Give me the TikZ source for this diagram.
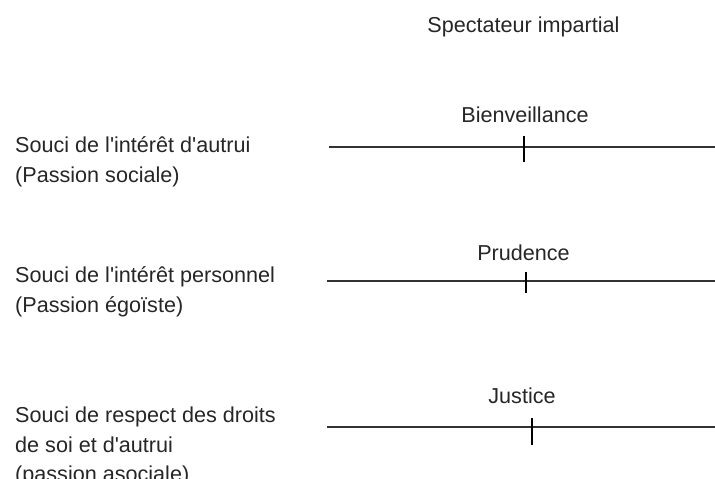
\documentclass[tikz,border=0pt]{standalone}
\usepackage{fontspec}
\setmainfont{Liberation Sans}
\newcommand{\ap}{\textquotesingle}
\begin{document}
\begin{tikzpicture}[x=1pt,y=1pt,
  lbl/.style={inner sep=0pt,anchor=base west,font=\fontsize{21.6}{30}\selectfont,text=black!85},
  ctr/.style={inner sep=0pt,anchor=base,font=\fontsize{21.6}{30}\selectfont,text=black!85},
  axis/.style={line width=1.7pt,draw=black!80},
  tickmark/.style={line width=1.4pt,draw=black}]
\useasboundingbox (0,0) rectangle (715,-479);
% title
\node[ctr] (title) at (523.5,-32) {Spectateur impartial};
% row 1
\node[lbl] (a1) at (15,-152) {Souci de l\ap intérêt d\ap autrui};
\node[lbl] (a2) at (15,-182) {(Passion sociale)};
\coordinate (l1s) at (329,-147);
\coordinate (l1e) at (715,-147);
\coordinate (t1a) at (524,-136);
\coordinate (t1b) at (524,-162);
\draw[axis] (l1s) -- (l1e);
\draw[tickmark] (t1a) -- (t1b);
\node[ctr] (v1) at (525,-122) {Bienveillance};
% row 2
\node[lbl] (b1) at (15,-282) {Souci de l\ap intérêt personnel};
\node[lbl] (b2) at (15,-312) {(Passion égoïste)};
\coordinate (l2s) at (327,-281);
\coordinate (l2e) at (715,-281);
\coordinate (t2a) at (526,-272);
\coordinate (t2b) at (526,-293);
\draw[axis] (l2s) -- (l2e);
\draw[tickmark] (t2a) -- (t2b);
\node[ctr] (v2) at (523.5,-260) {Prudence};
% row 3
\node[lbl] (c1) at (15,-422) {Souci de respect des droits};
\node[lbl] (c2) at (15,-452) {de soi et d\ap autrui};
\node[lbl] (c3) at (15,-481) {(passion asociale)};
\coordinate (l3s) at (327,-427);
\coordinate (l3e) at (715,-427);
\coordinate (t3a) at (532,-418);
\coordinate (t3b) at (532,-445);
\draw[axis] (l3s) -- (l3e);
\draw[tickmark] (t3a) -- (t3b);
\node[ctr] (v3) at (522,-403) {Justice};
\end{tikzpicture}
\end{document}
